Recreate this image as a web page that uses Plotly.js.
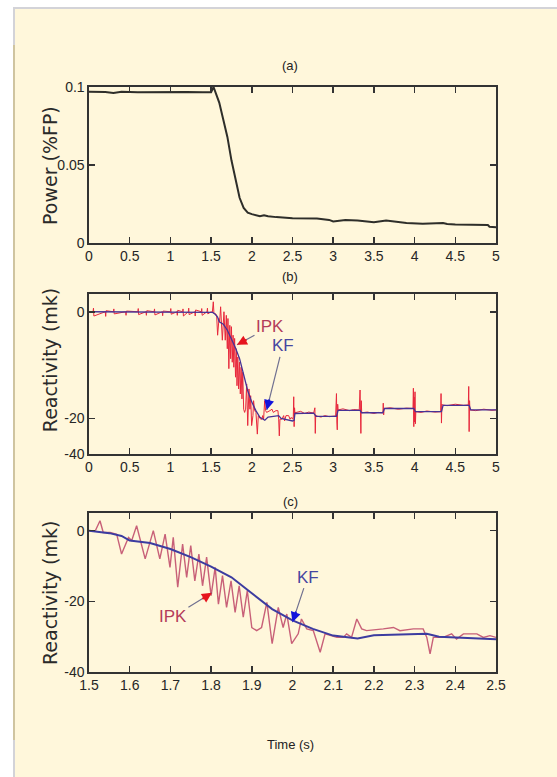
<!DOCTYPE html>
<html>
<head>
<meta charset="utf-8">
<script src="https://cdn.plot.ly/plotly-3.0.1.min.js"></script>
<style>
  html, body { margin: 0; padding: 0; background: #ffffff; width: 557px; height: 777px; overflow: hidden; }
  #topline { position: absolute; left: 13px; top: 7px; width: 544px; height: 2px; background: #d3d3d8; }
  #leftline1 { position: absolute; left: 13px; top: 7px; width: 2px; height: 38px; background: #d3d3d8; }
  #leftline2 { position: absolute; left: 13px; top: 45px; width: 2px; height: 695px; background: #cfc4a0; }
  #leftline3 { position: absolute; left: 13px; top: 740px; width: 2px; height: 37px; background: #d3d3d8; }
  #chart { position: absolute; left: 15px; top: 9px; width: 542px; height: 768px; }
</style>
</head>
<body>
<div id="topline"></div><div id="leftline1"></div><div id="leftline2"></div><div id="leftline3"></div>
<div id="chart"></div>
<script>
// ---- Panel (a): power ----
const powerT = [0, 0.1, 0.2, 0.3, 0.35, 0.4, 0.6, 0.8, 1.0, 1.2, 1.4, 1.5, 1.53, 1.56, 1.6, 1.65, 1.7, 1.75, 1.8, 1.85, 1.9, 1.95, 2.0, 2.05, 2.1, 2.15, 2.2, 2.3, 2.5, 2.8, 2.95, 3.0, 3.15, 3.3, 3.5, 3.65, 3.75, 3.9, 4.1, 4.35, 4.4, 4.5, 4.9, 4.92, 5.0];
const powerV = [0.097, 0.097, 0.0968, 0.0962, 0.0965, 0.097, 0.0966, 0.0968, 0.0967, 0.0968, 0.0966, 0.0967, 0.100, 0.096, 0.090, 0.079, 0.068, 0.053, 0.040, 0.029, 0.0225, 0.0195, 0.0185, 0.0177, 0.0172, 0.0178, 0.0172, 0.0166, 0.0158, 0.0157, 0.0148, 0.0138, 0.0148, 0.0145, 0.0133, 0.0145, 0.0137, 0.0128, 0.0123, 0.0128, 0.0122, 0.0118, 0.0115, 0.0104, 0.0101];

// ---- Reactivity, IPK signal ----
const ipkEarlyT = [0, 0.05, 0.055, 0.06, 0.2, 0.205, 0.21, 0.3, 0.305, 0.31, 0.45, 0.455, 0.46, 0.6, 0.605, 0.61, 0.7, 0.705, 0.71, 0.8, 0.805, 0.81, 0.9, 0.905, 0.91, 1.0, 1.005, 1.01, 1.08, 1.085, 1.09, 1.15, 1.155, 1.16, 1.22, 1.225, 1.23, 1.3, 1.305, 1.31, 1.38, 1.385, 1.39, 1.45, 1.455, 1.46];
const ipkEarlyV = [0, 0, 1, -1.2, 0, -1.3, 0.3, 0, 0.8, -0.6, 0, -1, 0.2, 0, 0.9, -0.8, 0, -1, 0.3, 0, 0.8, -0.9, 0, -1.1, 0.2, 0, 0.9, -0.7, 0, -1, 0.4, 0, 0.8, -1.2, 0, 1, -0.8, 0, -1.2, 0.5, 0, 0.9, -1, 0, 1, -0.6];

const ipkMidT = [1.5, 1.515, 1.527, 1.535, 1.552, 1.568, 1.58, 1.597, 1.605, 1.617, 1.638, 1.658, 1.674, 1.687, 1.699, 1.707, 1.718, 1.73, 1.74, 1.75, 1.76, 1.77, 1.779, 1.789, 1.8, 1.81, 1.818, 1.828, 1.838, 1.849, 1.859, 1.869, 1.879, 1.889, 1.9, 1.912, 1.924, 1.937, 1.95, 1.965, 1.977, 1.986, 1.998, 2.014, 2.022, 2.035, 2.051, 2.068, 2.08, 2.092, 2.109, 2.125, 2.133, 2.145, 2.158, 2.17, 2.182, 2.223, 2.248, 2.264, 2.297, 2.321, 2.33, 2.338, 2.346, 2.37, 2.391, 2.403, 2.42, 2.453, 2.469, 2.485, 2.5];
const ipkMidV = [0, -0.2, 2.8, -0.5, -0.5, -1, -6.6, -1.9, -2.8, 1.4, -8, 0, -8, -1, -10.4, -1.9, -16, -3.8, -13.2, -4.2, -14.2, -6.6, -15.6, -7.5, -18.4, -10.4, -20.8, -12.7, -21.7, -14.2, -23.1, -15.6, -24.5, -17, -27.4, -28.3, -27.4, -20.3, -32, -21.7, -27.4, -23.6, -32, -29.2, -25, -27.8, -28.3, -34.4, -29.2, -29.7, -30.2, -30.2, -29.2, -30.2, -25, -27.8, -28.3, -27.8, -27.4, -28.3, -27.8, -27.8, -30.2, -34.9, -30.2, -30.2, -29.2, -30.7, -29.2, -29.2, -30.2, -29.7, -30.2];

const ipkLateT = [2.51, 2.515, 2.52, 2.525, 2.53, 2.6, 2.65, 2.7, 2.76, 2.775, 2.78, 2.785, 2.79, 2.85, 2.9, 2.95, 3.03, 3.04, 3.045, 3.05, 3.055, 3.06, 3.12, 3.2, 3.25, 3.32, 3.33, 3.335, 3.34, 3.345, 3.35, 3.42, 3.5, 3.55, 3.61, 3.615, 3.62, 3.625, 3.7, 3.8, 3.9, 3.98, 3.985, 3.99, 3.995, 4.0, 4.005, 4.01, 4.015, 4.08, 4.15, 4.25, 4.32, 4.325, 4.33, 4.335, 4.34, 4.4, 4.5, 4.6, 4.66, 4.665, 4.67, 4.675, 4.68, 4.75, 4.85, 4.95, 5.0];
const ipkLateV = [-29.5, -23.9, -32.3, -27, -28.4, -28.0, -28.6, -28.2, -28.5, -27, -34.2, -29, -29.3, -29.6, -29.2, -29.5, -29.3, -23, -31, -33.2, -26, -27.6, -27.3, -27.8, -27.5, -27.6, -22, -30, -34.2, -25, -28.4, -28.2, -28.6, -28.3, -28.4, -25.7, -29, -27.2, -27.0, -27.4, -27.1, -27.2, -21.5, -32.3, -24, -31, -22.5, -31.5, -28.1, -28.3, -27.9, -28.2, -28.1, -23, -31.3, -26, -26.2, -26.4, -26.0, -26.3, -26.2, -21, -33.7, -25, -27.6, -27.8, -27.4, -27.7, -27.6];

// ---- Reactivity, KF estimate ----
const kfEarlyT = [0, 1.5];
const kfEarlyV = [0, 0];
const kfMidT = [1.5, 1.52, 1.55, 1.58, 1.6, 1.63, 1.65, 1.7, 1.75, 1.8, 1.85, 1.9, 1.95, 2.0, 2.05, 2.1, 2.13, 2.16, 2.2, 2.3, 2.33, 2.36, 2.4, 2.45, 2.5];
const kfMidV = [0, -0.2, -0.7, -1.5, -2.8, -3.2, -3.5, -5.2, -7.5, -10.2, -13.2, -17.7, -22.2, -25.4, -27.8, -29.7, -30.2, -30.5, -29.6, -29.2, -29.2, -30, -30.2, -30.6, -30.7];
const kfLateT = [2.52, 2.53, 2.76, 2.79, 3.04, 3.06, 3.33, 3.35, 3.61, 3.63, 3.99, 4.01, 4.33, 4.35, 4.67, 4.69, 5.0];
const kfLateV = [-30.5, -28.6, -28.5, -29.4, -29.4, -27.7, -27.7, -28.4, -28.4, -27.2, -27.2, -28.1, -28.1, -26.3, -26.3, -27.6, -27.6];

// ---- Axis ticks ----
const xTicksFull = [0, 0.5, 1, 1.5, 2, 2.5, 3, 3.5, 4, 4.5, 5];
const xTicksZoom = [1.5, 1.6, 1.7, 1.8, 1.9, 2, 2.1, 2.2, 2.3, 2.4, 2.5];
const yTicksPower = [0, 0.05, 0.1];
const yLabelsPower = ['0', '0.05', '0.1'];
const yTicksB = [0, -30, -40];
const yLabelsB = ['0', '-20', '-40'];
const yTicksC = [0, -20, -40];
const yLabelsC = ['0', '-20', '-40'];

const bIpkT = ipkEarlyT.concat(ipkMidT, ipkLateT);
const bIpkV = ipkEarlyV.concat(ipkMidV, ipkLateV);
const bKfT = kfEarlyT.concat(kfMidT, kfLateT);
const bKfV = kfEarlyV.concat(kfMidV, kfLateV);

const NARROW = 'Liberation Sans, Arial, sans-serif';
const WIDE = 'DejaVu Sans, Liberation Sans, Arial, sans-serif';
const frame = '#333333';

const traces = [
  {x: powerT, y: powerV, xaxis: 'x', yaxis: 'y', mode: 'lines', line: {color: '#2e2e2a', width: 2}, name: 'Power'},
  {x: bIpkT, y: bIpkV, xaxis: 'x2', yaxis: 'y2', mode: 'lines', line: {color: 'rgb(232,40,60)', width: 1}, name: 'IPK'},
  {x: bKfT, y: bKfV, xaxis: 'x2', yaxis: 'y2', mode: 'lines', line: {color: 'rgb(70,50,150)', width: 1.3}, name: 'KF'},
  {x: ipkMidT, y: ipkMidV, xaxis: 'x3', yaxis: 'y3', mode: 'lines', line: {color: 'rgb(200,96,120)', width: 1.4}, name: 'IPK'},
  {x: kfMidT, y: kfMidV, xaxis: 'x3', yaxis: 'y3', mode: 'lines', line: {color: 'rgb(60,60,160)', width: 2}, name: 'KF'}
];

const tickFont = {family: NARROW, size: 14, color: '#262626'};
function xax(range, ticks, anchor) {
  return {range: range, tickvals: ticks, anchor: anchor, domain: [0, 1], showgrid: false, zeroline: false,
    showline: true, linecolor: frame, linewidth: 1.6, mirror: 'ticks', ticks: 'inside', ticklen: 6,
    tickwidth: 1.5, tickcolor: frame, tickfont: tickFont, fixedrange: true};
}
function yax(range, ticks, labels, dom, anchor) {
  return {range: range, tickvals: ticks, ticktext: labels, anchor: anchor, domain: dom, showgrid: false, zeroline: false,
    showline: true, linecolor: frame, linewidth: 1.6, mirror: 'ticks', ticks: 'inside', ticklen: 6,
    tickwidth: 1.5, tickcolor: frame, tickfont: tickFont, fixedrange: true};
}

const titleFont = {family: NARROW, size: 13, color: '#222'};
const yTitleFont = {family: WIDE, size: 19, color: '#2a2a2a'};
const ipkCol = 'rgb(180,60,90)';
const kfCol = 'rgb(70,70,160)';
const lblFont = (c) => ({family: NARROW, size: 17, color: c});

const ann = [
  {text: '(a)', xref: 'paper', yref: 'paper', x: 0.494, y: 1.0359, showarrow: false, font: titleFont, xanchor: 'center', yanchor: 'middle'},
  {text: '(b)', xref: 'paper', yref: 'paper', x: 0.494, y: 0.6769, showarrow: false, font: titleFont, xanchor: 'center', yanchor: 'middle'},
  {text: '(c)', xref: 'paper', yref: 'paper', x: 0.494, y: 0.2906, showarrow: false, font: titleFont, xanchor: 'center', yanchor: 'middle'},
  {text: 'Time (s)', xref: 'paper', yref: 'paper', x: 0.494, y: -0.1231, showarrow: false, font: titleFont, xanchor: 'center', yanchor: 'middle'},
  {text: 'Power (%FP)', xref: 'paper', yref: 'paper', x: -0.0958, y: 0.865, textangle: -90, showarrow: false, font: yTitleFont, xanchor: 'center', yanchor: 'middle'},
  {text: 'Reactivity (mk)', xref: 'paper', yref: 'paper', x: -0.0958, y: 0.533, textangle: -90, showarrow: false, font: yTitleFont, xanchor: 'center', yanchor: 'middle'},
  {text: 'Reactivity (mk)', xref: 'paper', yref: 'paper', x: -0.0958, y: 0.135, textangle: -90, showarrow: false, font: yTitleFont, xanchor: 'center', yanchor: 'middle'},
  // (b) IPK
  {text: 'IPK', xref: 'x2', yref: 'y2', x: 1.818, y: -9.3, ax: 33, ay: -18, showarrow: true, arrowhead: 0, arrowwidth: 1.2, arrowcolor: '#707090', font: lblFont(ipkCol)},
  {text: '', xref: 'x2', yref: 'y2', x: 1.818, y: -9.3, ax: 11, ay: -6, showarrow: true, arrowhead: 2, arrowsize: 1, arrowwidth: 2, arrowcolor: 'rgb(230,20,30)'},
  // (b) KF
  {text: 'KF', xref: 'x2', yref: 'y2', x: 2.183, y: -27.6, ax: 16, ay: -64, showarrow: true, arrowhead: 0, arrowwidth: 1.2, arrowcolor: '#707090', font: lblFont(kfCol)},
  {text: '', xref: 'x2', yref: 'y2', x: 2.183, y: -27.6, ax: 3, ay: -12, showarrow: true, arrowhead: 2, arrowsize: 1, arrowwidth: 2, arrowcolor: 'rgb(20,20,220)'},
  // (c) IPK
  {text: 'IPK', xref: 'x3', yref: 'y3', x: 1.802, y: -17.6, ax: -39, ay: 24, showarrow: true, arrowhead: 0, arrowwidth: 1.2, arrowcolor: '#707090', font: lblFont(ipkCol)},
  {text: '', xref: 'x3', yref: 'y3', x: 1.802, y: -17.6, ax: -11, ay: 7, showarrow: true, arrowhead: 2, arrowsize: 1, arrowwidth: 2, arrowcolor: 'rgb(230,20,30)'},
  // (c) KF
  {text: 'KF', xref: 'x3', yref: 'y3', x: 2.0, y: -25.9, ax: 15, ay: -45, showarrow: true, arrowhead: 0, arrowwidth: 1.2, arrowcolor: '#707090', font: lblFont(kfCol)},
  {text: '', xref: 'x3', yref: 'y3', x: 2.0, y: -25.9, ax: 4, ay: -12, showarrow: true, arrowhead: 2, arrowsize: 1, arrowwidth: 2, arrowcolor: 'rgb(20,20,220)'}
];

const layout = {
  width: 542, height: 768,
  margin: {l: 74, r: 61, t: 78, b: 105},
  paper_bgcolor: '#FFF7DB', plot_bgcolor: '#FFF7DB',
  showlegend: false,
  xaxis: xax([0, 5], xTicksFull, 'y'),
  yaxis: yax([0, 0.1], yTicksPower, yLabelsPower, [0.7333, 1], 'x'),
  xaxis2: xax([0, 5], xTicksFull, 'y2'),
  yaxis2: yax([-40, 5], yTicksB, yLabelsB, [0.3726, 0.6462], 'x2'),
  xaxis3: xax([1.5, 2.5], xTicksZoom, 'y3'),
  yaxis3: yax([-40, 5], yTicksC, yLabelsC, [0, 0.2718], 'x3'),
  annotations: ann
};

Plotly.newPlot('chart', traces, layout, {displayModeBar: false, staticPlot: true});
</script>
</body>
</html>
